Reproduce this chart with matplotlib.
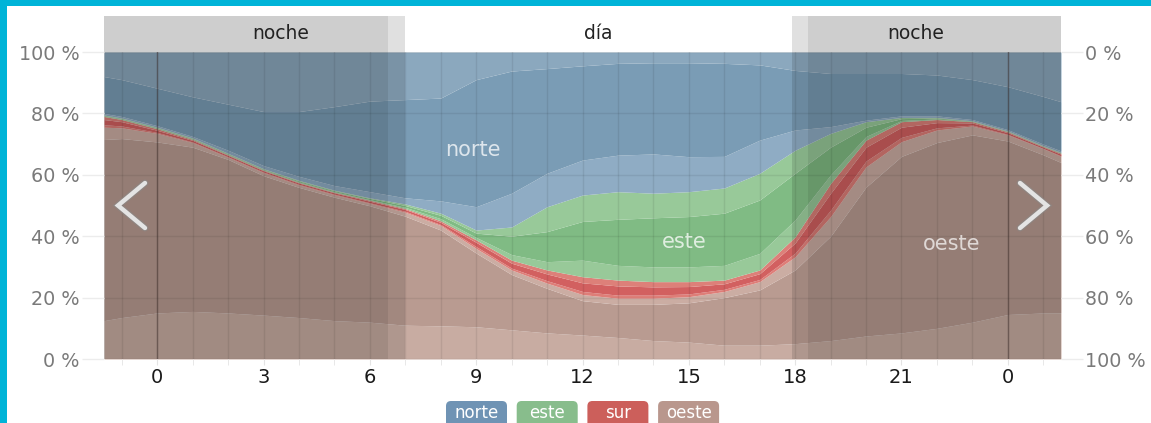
import matplotlib
matplotlib.use('Agg')
import matplotlib.pyplot as plt
from matplotlib.patches import FancyBboxPatch, Rectangle
from matplotlib.lines import Line2D
from matplotlib.transforms import IdentityTransform

W, H, DPI = 1151, 423, 100

# ---------------- data (cumulative % boundaries, stacked from bottom) ----------------
hours = [-1.5, -1, 0, 1, 2, 3, 4, 5, 6, 7, 8, 9, 10, 11, 12, 13, 14, 15, 16,
         17, 18, 19, 20, 21, 22, 23, 24, 25, 25.5]

oeste_lo = [12.5, 13.5, 15, 15.5, 15, 14.3, 13.5, 12.5, 12, 11, 10.8, 10.5, 9.5, 8.5,
            7.8, 7, 6, 5.5, 4.5, 4.5, 5, 6, 7.5, 8.5, 10, 12, 14.5, 15, 15]
oeste_mid = [71.5, 71.8, 70.7, 69, 65, 59.7, 55.9, 52.7, 49.9, 46.5, 42, 34.5, 27.5, 23,
             19, 17.8, 17.8, 18.3, 20, 22.5, 29, 40, 56, 66, 70.5, 73, 71, 66.5, 64]
oeste_top = [75.5, 75.3, 73.5, 70.5, 65.7, 60.7, 56.7, 53.5, 50.7, 47.8, 43.5, 36, 29, 24.7,
             21, 19.8, 19.8, 20.3, 22, 25.2, 33.3, 46.4, 62.6, 70.8, 74.6, 75.9, 73, 68.5, 66]
sur_lo = [76.3, 75.9, 73.8, 70.7, 65.9, 60.9, 56.9, 53.7, 50.9, 48.1, 43.8, 36.6, 29.6, 25.5,
          22, 20.8, 20.8, 21.2, 22.7, 25.9, 34.5, 48.5, 64.5, 72.2, 75.3, 76.2, 73.2, 68.6, 66.2]
sur_mid = [78, 77.3, 74.5, 71.2, 66.3, 61.3, 57.3, 54.1, 51.4, 48.7, 44.5, 38, 31.2, 27.7,
           24.8, 23.8, 23.5, 23.6, 24.5, 27.8, 37.8, 54, 69, 75.5, 77, 76.9, 73.7, 69, 66.7]
sur_top = [79, 78, 75, 71.5, 66.5, 61.5, 57.5, 54.3, 51.7, 49, 45, 38.8, 32.2, 29,
           26.8, 25.7, 25.2, 25.2, 25.7, 29, 39.8, 57.2, 71.3, 77.3, 78, 77.3, 74, 69.2, 67]
este_lo = [79.15, 78.15, 75.15, 71.65, 66.65, 61.65, 57.7, 54.5, 51.9, 49.4, 45.7, 39.6, 34,
           31.7, 32.2, 30.5, 30, 30, 30.5, 34.4, 45.3, 60, 72.5, 77.7, 78.2, 77.4, 74.1, 69.3, 67.1]
este_mid = [79.35, 78.35, 75.35, 71.85, 66.85, 61.85, 58, 54.8, 52.3, 50, 46.8, 41, 40,
            41.5, 44.8, 45.5, 46, 46.4, 47.5, 51.8, 60.5, 69, 75.5, 78.3, 78.5, 77.5, 74.2, 69.4, 67.2]
este_top = [79.5, 78.5, 75.5, 72, 67, 62, 58.2, 55, 52.5, 50.5, 47.5, 42, 43, 49.6,
            53.4, 54.5, 54, 54.5, 55.7, 60.5, 68, 73.5, 77.3, 78.7, 78.7, 77.6, 74.3, 69.5, 67.3]
norte_lo = [80, 79, 76, 72.5, 68, 63, 59.5, 56.5, 54.5, 52.5, 51.5, 49.6, 54, 60.5,
            64.8, 66.4, 66.8, 65.9, 66, 71.3, 74.6, 75.7, 77.8, 79.2, 79.2, 78, 74.7, 70, 67.8]
norte_mid = [92, 91, 88.2, 85.4, 83, 80.6, 80.6, 82.2, 84, 84.5, 85, 91, 93.8, 94.6,
             95.5, 96.3, 96.5, 96.5, 96.3, 95.8, 94, 93, 93, 93, 92.5, 91, 88.7, 85.5, 83.8]
total = 100

directions = ['norte', 'este', 'sur', 'oeste']
legend_colors = ['#6f93b4', '#88bd8c', '#cc5f5b', '#b9978d']

tick_hours = [0, 3, 6, 9, 12, 15, 18, 21, 24]
tick_labels = ['0', '3', '6', '9', '12', '15', '18', '21', '0']
grid_hours = list(range(-1, 26))
midnights = [0, 24]
pct_ticks = [0, 20, 40, 60, 80, 100]

night_periods = [(-1.5, 6.5), (18.35, 25.5)]
twilight_periods = [(-1.5, 7.0), (17.9, 25.5)]
period_labels = [(3.48, 'noche'), (12.45, 'día'), (21.4, 'noche')]

# ---------------- figure ----------------
fig = plt.figure(figsize=(W / DPI, H / DPI), dpi=DPI)
fig.patch.set_facecolor('white')
ax = fig.add_axes([104 / W, (H - 359) / H, (1061 - 104) / W, (359 - 52) / H])
ax.set_xlim(-1.5, 25.5)
ax.set_ylim(0, 100)
for s in ax.spines.values():
    s.set_visible(False)

bounds = [[0] * len(hours), oeste_lo, oeste_mid, oeste_top, sur_lo, sur_mid, sur_top,
          este_lo, este_mid, este_top, norte_lo, norte_mid, [total] * len(hours)]
layer_colors = ['#c8aca2', '#b99b91', '#cbada3',
                '#de7e78', '#d26060', '#dd8079',
                '#98c999', '#80bb84', '#98c999',
                '#8facc4', '#7a9cb5', '#8ba8be']
for i, c in enumerate(layer_colors):
    ax.fill_between(hours, bounds[i], bounds[i + 1], color=c, lw=0, zorder=1)

# night / twilight overlays incl. header band
for a, b in twilight_periods:
    ax.axvspan(a, b, ymin=0, ymax=1.117, color='black', alpha=0.12, lw=0,
               clip_on=False, zorder=2)
for a, b in night_periods:
    ax.axvspan(a, b, ymin=0, ymax=1.117, color='black', alpha=0.08, lw=0,
               clip_on=False, zorder=2)

for x, lab in period_labels:
    ax.text(x, 105.9, lab, ha='center', va='center', fontsize=13.5, color='#222222',
            clip_on=False, zorder=5)

# grid
ax.set_xticks(tick_hours)
ax.set_xticklabels(tick_labels)
ax.set_xticks(grid_hours, minor=True)
ax.grid(axis='x', which='both', color='black', alpha=0.08, lw=1)
ax.grid(axis='y', color='black', alpha=0.07, lw=1)
ax.set_axisbelow(False)
for m in midnights:
    ax.axvline(m, color='#3a2a28', alpha=0.45, lw=1, zorder=3)

ax.tick_params(axis='x', which='both', length=4.3, color='#e4e4e4', pad=2.5,
               labelsize=14, labelcolor='#1a1a1a')
ax.set_yticks(pct_ticks)
ax.set_yticklabels([f'{v} %' for v in pct_ticks])
ax.tick_params(axis='y', length=16, width=1, color='#ececec', pad=1.5,
               labelsize=13.8, labelcolor='#7a7a7a')

ax2 = ax.twinx()
ax2.set_ylim(100, 0)
for s in ax2.spines.values():
    s.set_visible(False)
ax2.set_yticks(pct_ticks)
ax2.set_yticklabels([f'{v} %' for v in pct_ticks])
ax2.tick_params(axis='y', length=16, width=1, color='#ececec', pad=1.5,
                labelsize=13.8, labelcolor='#7a7a7a')

# area labels
ax.text(8.92, 68.1, 'norte', ha='center', va='center', fontsize=15, color='white',
        alpha=0.75, zorder=6)
ax.text(14.86, 38.1, 'este', ha='center', va='center', fontsize=15, color='white',
        alpha=0.75, zorder=6)
ax.text(22.42, 37.5, 'oeste', ha='center', va='center', fontsize=15, color='white',
        alpha=0.7, zorder=6)

# legend boxes (pixel layout)
idt = IdentityTransform()
for i, (name, col) in enumerate(zip(directions, legend_colors)):
    x0 = 446 + i * 70.7
    fig.add_artist(FancyBboxPatch((x0, H - 432), 61, 31,
                                  boxstyle='round,pad=0,rounding_size=5',
                                  fc=col, ec='none', transform=idt))
    fig.text((x0 + 30.5) / W, (H - 413) / H, name, ha='center', va='center',
             fontsize=12, color='white')

# chevrons
for pts in ([(145, 183), (118, 205.5), (145, 228)],
            [(1020, 183), (1047, 205.5), (1020, 228)]):
    xs = [p[0] for p in pts]
    ys = [H - p[1] for p in pts]
    fig.add_artist(Line2D(xs, ys, transform=idt, color='#8a8a8a', alpha=0.55, lw=5,
                          solid_capstyle='round', solid_joinstyle='miter'))
    fig.add_artist(Line2D(xs, ys, transform=idt, color='#e4e4e4', lw=3.2,
                          solid_capstyle='round', solid_joinstyle='miter'))

# cyan frame (left and top)
fig.add_artist(Rectangle((0, 0), 7, H, transform=idt, fc='#00b4d8', ec='none'))
fig.add_artist(Rectangle((0, H - 6), W, 6, transform=idt, fc='#00b4d8', ec='none'))

fig.savefig('out.png', dpi=DPI)
